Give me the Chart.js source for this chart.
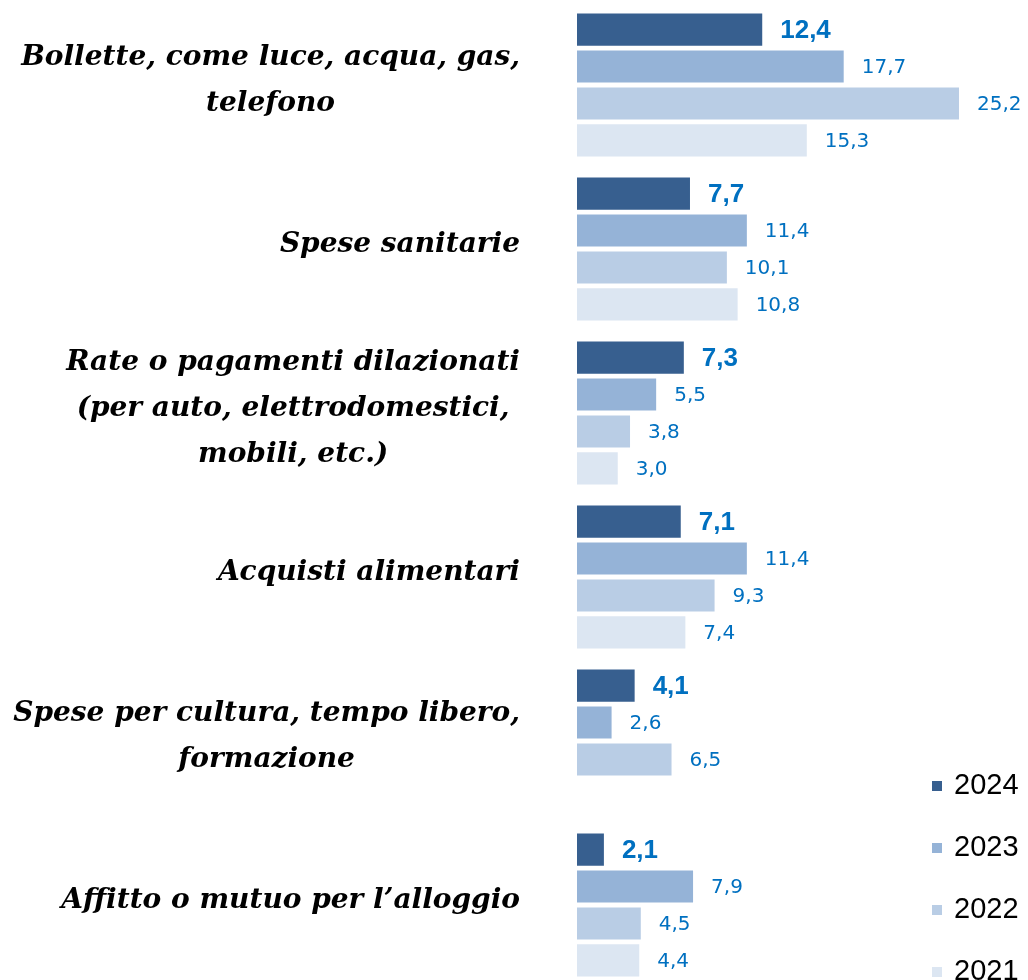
<!DOCTYPE html>
<html lang="it">
<head>
  <meta charset="UTF-8">
  <title>Spese</title>
  <script src="https://cdn.jsdelivr.net/npm/chart.js"></script>
  <style>
    body {
      margin: 0;
      background: #ffffff;
      overflow: hidden;
    }

    .chart-container {
      position: absolute;
      left: 0;
      top: 0;
      width: 1028px;
      height: 990px;
    }

    .legend {
      position: absolute;
      left: 932px;
      top: 768px;
      font-family: "Liberation Sans", Arial, sans-serif;
      font-size: 29px;
      color: #000000;
    }

    .legend div {
      height: 62px;
      line-height: 32px;
      white-space: nowrap;
    }

    .legend span.box {
      display: inline-block;
      width: 10px;
      height: 10px;
      margin-right: 12px;
      vertical-align: 3px;
    }
  </style>
</head>
<body>
  <div class="chart-container">
    <canvas id="barChart"></canvas>
  </div>
  <div class="legend" id="legend"></div>

  <script>
    const categories = [
      ["Bollette, come luce, acqua, gas,", "telefono"],
      ["Spese sanitarie"],
      ["Rate o pagamenti dilazionati", "(per auto, elettrodomestici,", "mobili, etc.)"],
      ["Acquisti alimentari"],
      ["Spese per cultura, tempo libero,", "formazione"],
      ["Affitto o mutuo per l\u2019alloggio"]
    ];
    const seriesNames = ["2024", "2023", "2022", "2021"];
    const values2024 = [12.4, 7.7, 7.3, 7.1, 4.1, 2.1];
    const values2023 = [17.7, 11.4, 5.5, 11.4, 2.6, 7.9];
    const values2022 = [25.2, 10.1, 3.8, 9.3, 6.5, 4.5];
    const values2021 = [15.3, 10.8, 3.0, 7.4, null, 4.4];
    const seriesColors = ["#375f8f", "#95b3d7", "#b9cde5", "#dce6f2"];

    const labelFont = 'bold italic 28px "DejaVu Serif"';
    const valueColor = "#0070c0";

    function formatValue(v) {
      return v.toFixed(1).replace(".", ",");
    }

    // category labels: block right aligned, lines centred inside the block
    const categoryLabels = {
      id: "categoryLabels",
      afterDraw(chart) {
        const ctx = chart.ctx;
        const yScale = chart.scales.y;
        const lineGap = 46;
        ctx.save();
        ctx.font = labelFont;
        ctx.fillStyle = "#000000";
        ctx.textAlign = "center";
        ctx.textBaseline = "middle";
        categories.forEach((lines, i) => {
          const blockWidth = Math.max(...lines.map(l => ctx.measureText(l).width));
          const centerX = 520 - blockWidth / 2;
          const centerY = yScale.getPixelForValue(i) - 4;
          const startY = centerY - (lines.length - 1) * lineGap / 2;
          lines.forEach((line, j) => {
            ctx.fillText(line, centerX, startY + j * lineGap);
          });
        });
        ctx.restore();
      }
    };

    // value labels at the end of each bar
    const valueLabels = {
      id: "valueLabels",
      afterDatasetsDraw(chart) {
        const ctx = chart.ctx;
        ctx.save();
        ctx.fillStyle = valueColor;
        ctx.textAlign = "left";
        ctx.textBaseline = "middle";
        chart.data.datasets.forEach((ds, di) => {
          const meta = chart.getDatasetMeta(di);
          ctx.font = di === 0 ? 'bold 26px "Liberation Sans"' : '20px "DejaVu Sans"';
          meta.data.forEach((bar, i) => {
            const v = ds.data[i];
            if (v === null) return;
            ctx.fillText(formatValue(v), bar.x + 18, bar.y + 1);
          });
        });
        ctx.restore();
      }
    };

    function buildLegend() {
      const legend = document.getElementById("legend");
      seriesNames.forEach((name, i) => {
        const row = document.createElement("div");
        row.innerHTML = `<span class="box" style="background:${seriesColors[i]}"></span>${name}`;
        legend.appendChild(row);
      });
    }

    function drawChart() {
      const allValues = [values2024, values2023, values2022, values2021];
      const ctx = document.getElementById("barChart").getContext("2d");

      new Chart(ctx, {
        type: "bar",
        data: {
          labels: categories,
          datasets: seriesNames.map((name, i) => ({
            label: name,
            data: allValues[i],
            backgroundColor: seriesColors[i],
            borderWidth: 0,
            categoryPercentage: 0.9,
            barPercentage: 0.87
          }))
        },
        options: {
          indexAxis: "y",
          responsive: true,
          maintainAspectRatio: false,
          animation: false,
          layout: {
            padding: { top: 3, bottom: 3, left: 0, right: 0 }
          },
          plugins: {
            legend: { display: false },
            tooltip: { enabled: false }
          },
          scales: {
            x: {
              display: false,
              min: 0.35,
              max: 29.69
            },
            y: {
              grid: { display: false, drawTicks: false },
              border: { display: false },
              ticks: { display: false },
              afterFit(scale) {
                scale.width = 577;
              }
            }
          }
        },
        plugins: [valueLabels, categoryLabels]
      });

      buildLegend();
    }

    window.onload = drawChart;
  </script>
</body>
</html>
